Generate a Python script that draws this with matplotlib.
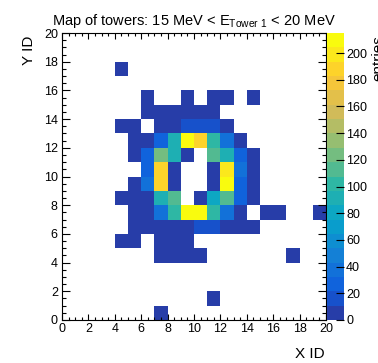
import numpy as np
import matplotlib
matplotlib.use('Agg')
import matplotlib.pyplot as plt
from matplotlib.colors import ListedColormap, BoundaryNorm, LinearSegmentedColormap
from matplotlib.ticker import MultipleLocator

plt.rcParams['font.family'] = ['Liberation Sans', 'DejaVu Sans']
plt.rcParams['mathtext.fontset'] = 'custom'
plt.rcParams['mathtext.rm'] = 'Liberation Sans'

# tower counts, one row per Y ID (top row is Y = 19), columns are X ID 0..19
counts = [
    [0, 0, 0, 0, 0, 0, 0, 0, 0, 0, 0, 0, 0, 0, 0, 0, 0, 0, 0, 0],    # 19
    [0, 0, 0, 0, 0, 0, 0, 0, 0, 0, 0, 0, 0, 0, 0, 0, 0, 0, 0, 0],    # 18
    [0, 0, 0, 0, 4, 0, 0, 0, 0, 0, 0, 0, 0, 0, 0, 0, 0, 0, 0, 0],    # 17
    [0, 0, 0, 0, 0, 0, 0, 0, 0, 0, 0, 0, 0, 0, 0, 0, 0, 0, 0, 0],    # 16
    [0, 0, 0, 0, 0, 0, 3, 0, 0, 2, 0, 4, 3, 0, 2, 0, 0, 0, 0, 0],    # 15
    [0, 0, 0, 0, 0, 0, 3, 6, 4, 5, 7, 4, 0, 0, 0, 0, 0, 0, 0, 0],    # 14
    [0, 0, 0, 0, 5, 6, 0, 8, 9, 17, 15, 16, 7, 0, 0, 0, 0, 0, 0, 0],  # 13
    [0, 0, 0, 0, 0, 6, 9, 25, 90, 215, 186, 100, 35, 8, 0, 0, 0, 0, 0, 0],  # 12
    [0, 0, 0, 0, 0, 5, 24, 125, 92, 9, 0, 112, 96, 22, 6, 0, 0, 0, 0, 0],   # 11
    [0, 0, 0, 0, 0, 0, 28, 188, 10, 0, 0, 9, 196, 33, 7, 0, 0, 0, 0, 0],    # 10
    [0, 0, 0, 0, 0, 6, 36, 185, 8, 0, 0, 10, 210, 25, 5, 0, 0, 0, 0, 0],    # 9
    [0, 0, 0, 0, 4, 7, 9, 95, 110, 0, 8, 82, 112, 24, 6, 0, 0, 0, 0, 0],    # 8
    [0, 0, 0, 0, 0, 5, 9, 38, 101, 208, 211, 98, 40, 8, 0, 4, 3, 0, 0, 2],  # 7
    [0, 0, 0, 0, 0, 4, 7, 9, 8, 10, 17, 18, 8, 6, 3, 0, 0, 0, 0, 0],  # 6
    [0, 0, 0, 0, 3, 4, 0, 6, 5, 4, 0, 0, 0, 0, 0, 0, 0, 0, 0, 0],    # 5
    [0, 0, 0, 0, 0, 0, 0, 4, 5, 3, 4, 0, 0, 0, 0, 0, 0, 2, 0, 0],    # 4
    [0, 0, 0, 0, 0, 0, 0, 0, 0, 0, 0, 0, 0, 0, 0, 0, 0, 0, 0, 0],    # 3
    [0, 0, 0, 0, 0, 0, 0, 0, 0, 0, 0, 0, 0, 0, 0, 0, 0, 0, 0, 0],    # 2
    [0, 0, 0, 0, 0, 0, 0, 0, 0, 0, 0, 2, 0, 0, 0, 0, 0, 0, 0, 0],    # 1
    [0, 0, 0, 0, 0, 0, 0, 2, 0, 0, 0, 0, 0, 0, 0, 0, 0, 0, 0, 0],    # 0
]
x_edges = np.arange(0, 21)
y_edges = np.arange(0, 21)
n_contours = 20

# ROOT kBird palette
stops = [0.0, 0.125, 0.25, 0.375, 0.5, 0.625, 0.75, 0.875, 1.0]
red = [0.2082, 0.0592, 0.0780, 0.0232, 0.1802, 0.5301, 0.8186, 0.9956, 0.9764]
green = [0.1664, 0.3599, 0.5041, 0.6419, 0.7178, 0.7492, 0.7328, 0.7862, 0.9832]
blue = [0.5293, 0.8684, 0.8385, 0.7914, 0.6425, 0.4662, 0.3499, 0.1968, 0.0539]
bird = LinearSegmentedColormap.from_list(
    'bird', [(s, (r, g, b)) for s, r, g, b in zip(stops, red, green, blue)], N=255)
# pick the same palette entries ROOT uses for 20 contour levels
idx = [int((k + 0.99) * 255 / n_contours) for k in range(n_contours)]
cmap = ListedColormap([bird(i / 254) for i in idx])

z = np.array(counts[::-1], dtype=float)
z = np.ma.masked_where(z <= 0, z)
zmax = z.max()
levels = np.linspace(0, zmax, n_contours + 1)
norm = BoundaryNorm(levels, cmap.N)

fig = plt.figure(figsize=(3.78, 3.63), dpi=100)
ax = fig.add_axes([62 / 378, 43 / 363, 264 / 378, 287 / 363])
cax = fig.add_axes([327 / 378, 43 / 363, 17 / 378, 287 / 363])

mesh = ax.pcolormesh(x_edges, y_edges, z, cmap=cmap, norm=norm)
ax.set_xlim(0, 20)
ax.set_ylim(0, 20)
ax.xaxis.set_major_locator(MultipleLocator(2))
ax.xaxis.set_minor_locator(MultipleLocator(0.5))
ax.yaxis.set_major_locator(MultipleLocator(2))
ax.yaxis.set_minor_locator(MultipleLocator(0.5))
ax.tick_params(which='both', direction='in', top=True, right=True,
               labelsize=9, width=0.8, color='black')
ax.tick_params(axis='x', which='major', length=4.5, pad=2)
ax.tick_params(axis='x', which='minor', length=2.3)
ax.tick_params(axis='y', which='major', length=6, pad=3)
ax.tick_params(axis='y', which='minor', length=3)
for sp in ax.spines.values():
    sp.set_linewidth(0.8)

ax.set_title(r'Map of towers: 15 MeV < E$_{\mathrm{Tower\ 1}}$ < 20 MeV',
             fontsize=10.5, pad=6)
ax.text(-0.125, 0.99, 'Y ID', transform=ax.transAxes, rotation=90,
        ha='center', va='top', fontsize=11)
ax.text(0.995, -0.095, 'X ID', transform=ax.transAxes,
        ha='right', va='top', fontsize=11)

cbar = fig.colorbar(mesh, cax=cax, ticks=np.arange(0, 201, 20))
cbar.outline.set_visible(False)
cax.tick_params(direction='in', length=5.5, width=0.8, pad=1.5, labelsize=9)
cax.minorticks_off()
fig.text(371 / 378, 1 - 35 / 363, 'entries', rotation=90,
         ha='left', va='top', fontsize=11)

fig.savefig('out.png', dpi=100)
